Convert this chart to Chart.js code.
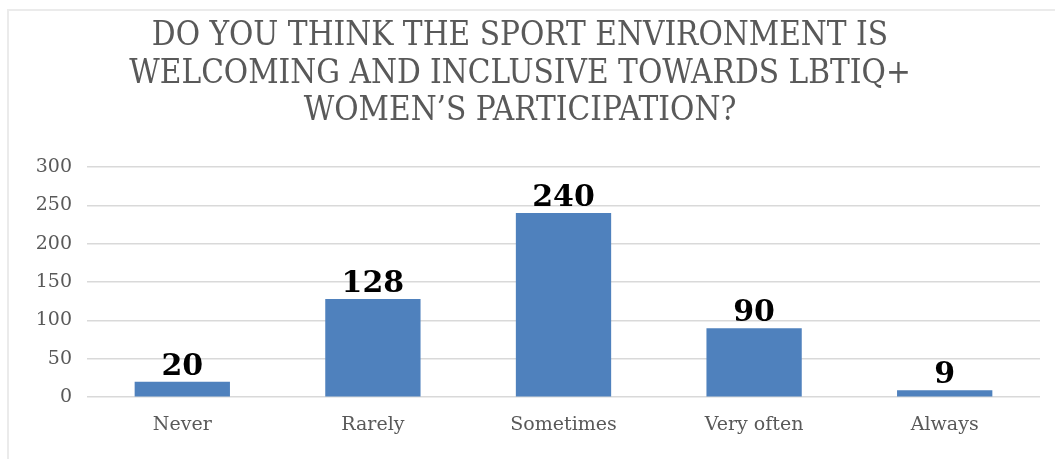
<!DOCTYPE html>
<html>
<head>
<meta charset="utf-8">
<script src="https://cdn.jsdelivr.net/npm/chart.js@4/dist/chart.umd.min.js"></script>
<style>
  html, body { margin: 0; padding: 0; background: #ffffff; }
  #wrap { position: relative; width: 1055px; height: 459px; overflow: hidden; }
  #frame { position: absolute; left: 7px; top: 9px; width: 1060px; height: 460px;
           border-left: 2px solid #ebebeb; border-top: 2px solid #ebebeb; }
  canvas { position: absolute; left: 0; top: 0; }
</style>
</head>
<body>
<div id="wrap">
  <div id="frame"></div>
  <canvas id="c" width="1055" height="459"></canvas>
</div>
<script>
const titleLines = ["DO YOU THINK THE SPORT ENVIRONMENT IS", "WELCOMING AND INCLUSIVE TOWARDS LBTIQ+", "WOMEN\u2019S PARTICIPATION?"];
const categories = ["Never", "Rarely", "Sometimes", "Very often", "Always"];
const responses = [20, 128, 240, 90, 9];
const yTicks = [0, 50, 100, 150, 200, 250, 300];

const valueLabels = {
  id: 'valueLabels',
  afterDatasetsDraw(chart) {
    const ctx = chart.ctx;
    const meta = chart.getDatasetMeta(0);
    ctx.save();
    ctx.font = 'bold 30px "DejaVu Serif"';
    ctx.fillStyle = '#000000';
    ctx.textAlign = 'center';
    ctx.textBaseline = 'alphabetic';
    meta.data.forEach((bar, i) => {
      ctx.fillText(String(chart.data.datasets[0].data[i]), bar.x, bar.y - 7);
    });
    ctx.restore();
  }
};

new Chart(document.getElementById('c'), {
  type: 'bar',
  data: {
    labels: categories,
    datasets: [{
      data: responses,
      backgroundColor: '#4F81BD',
      borderWidth: 0,
      barPercentage: 0.5,
      categoryPercentage: 1.0
    }]
  },
  options: {
    responsive: false,
    animation: false,
    events: [],
    layout: { padding: { left: 0, right: 15, top: 0, bottom: 15 } },
    plugins: {
      legend: { display: false },
      tooltip: { enabled: false },
      title: {
        display: true,
        text: titleLines,
        color: '#595959',
        font: { family: '"DejaVu Serif Condensed", "DejaVu Serif"', size: 33, weight: 'normal', lineHeight: 1.135 },
        padding: { top: 18, bottom: 36.6 }
      }
    },
    scales: {
      x: {
        grid: { display: false },
        border: { display: false },
        ticks: { color: '#595959', font: { family: '"DejaVu Serif"', size: 19 }, padding: 8 }
      },
      y: {
        min: 0,
        max: 300,
        afterFit(scale) { scale.width = 87; },
        afterBuildTicks(scale) { scale.ticks = yTicks.map(v => ({ value: v })); },
        grid: { color: '#d9d9d9', lineWidth: 1.5, drawTicks: false },
        border: { display: false },
        ticks: { color: '#595959', font: { family: '"DejaVu Serif"', size: 19 }, padding: 15 }
      }
    }
  },
  plugins: [valueLabels]
});
</script>
</body>
</html>
